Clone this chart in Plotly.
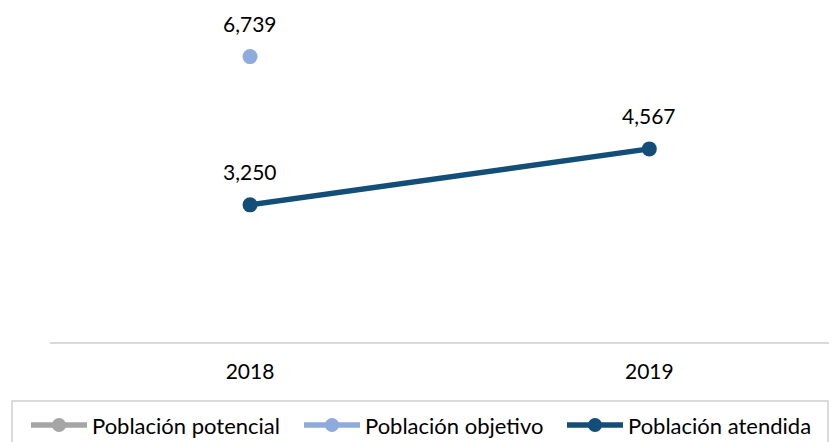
import plotly.graph_objects as go

years = ["2018", "2019"]
potencial = [None, None]
objetivo = [6739, None]
atendida = [3250, 4567]

names = ["Población potencial", "Población objetivo", "Población atendida"]
colors = ["#A5A5A5", "#8FAADC", "#124E78"]

FONT = "Lato, Calibri, sans-serif"
OFF = 8  # page body margin offset
W, H = 837 - OFF, 442 - OFF
L, R, T, B = 42, 0, 0, 99


def px(x):
    # screen pixel -> paper x
    return (x - OFF - L) / (W - L - R)


def py(y):
    # screen pixel -> paper y
    return (H - B - (y - OFF)) / (H - T - B)


fig = go.Figure()
for name, vals, col in zip(names, [potencial, objetivo, atendida], colors):
    fig.add_trace(go.Scatter(
        x=[0, 1], y=vals, name=name, mode="lines+markers",
        line=dict(color=col, width=5.5),
        marker=dict(color=col, size=15),
        connectgaps=False, showlegend=False,
    ))

# data labels above each point
for vals in [objetivo, atendida]:
    for i, v in enumerate(vals):
        if v is None:
            continue
        fig.add_annotation(x=i, y=v, text=f"{v:,}", showarrow=False,
                           yshift=33, font=dict(size=21, color="#000000", family=FONT))

# legend drawn by hand (frame, line + marker, text)
fig.add_shape(type="rect", xref="paper", yref="paper",
              x0=px(12), x1=px(828), y0=py(401), y1=py(460),
              line=dict(color="#D0D0D0", width=1.5), fillcolor="rgba(0,0,0,0)")
starts = [31, 304, 567]
for name, col, x0 in zip(names, colors, starts):
    fig.add_shape(type="line", xref="paper", yref="paper",
                  x0=px(x0), x1=px(x0 + 56), y0=py(425), y1=py(425),
                  line=dict(color=col, width=5.5))
    fig.add_shape(type="circle", xref="paper", yref="paper",
                  xsizemode="pixel", ysizemode="pixel",
                  xanchor=px(x0 + 28), yanchor=py(425),
                  x0=-7, x1=7, y0=-7, y1=7,
                  line=dict(color=col, width=0), fillcolor=col)
    fig.add_annotation(xref="paper", yref="paper", x=px(x0 + 59), y=py(425),
                       xanchor="left", yanchor="middle", text=name, showarrow=False,
                       font=dict(size=22, color="#000000", family=FONT))

fig.update_layout(
    width=W, height=H,
    margin=dict(l=L, r=R, t=T, b=B),
    paper_bgcolor="white", plot_bgcolor="white",
    font=dict(family=FONT, size=21, color="#000000"),
    showlegend=False,
)
fig.update_xaxes(tickmode="array", tickvals=[0, 1], ticktext=years,
                 range=[-0.501, 1.47], showgrid=False, zeroline=False,
                 showline=False, ticks="", ticklabelstandoff=14, automargin=False)
fig.update_yaxes(range=[0, 7882], showgrid=False, zeroline=True,
                 zerolinecolor="#D9D9D9", zerolinewidth=2,
                 showticklabels=False, showline=False, automargin=False)

fig.write_html("out.html")
